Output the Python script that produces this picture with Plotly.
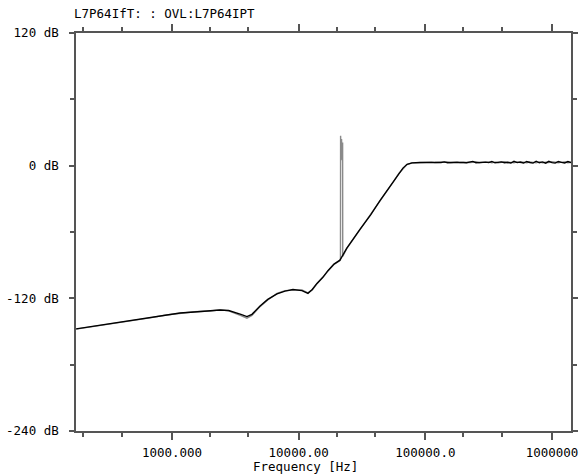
import plotly.graph_objects as go

# ---------------- data ----------------
main_freq_hz = [175, 250, 389, 500, 670, 900, 1156, 1500, 1995, 2393, 2800, 3142,
                3500, 3905, 4277, 4954, 5700, 6745, 7800, 9018, 10620, 11840,
                12800, 13940, 15500, 17020, 19000, 21180]
black_main_db = [-147.6, -145.0, -141.5, -139.8, -137.5, -135.3, -133.3, -132.3,
                 -131.2, -130.6, -131.0, -132.5, -134.5, -136.5, -134.5, -127.0,
                 -121.0, -116.0, -113.5, -112.0, -113.0, -115.5, -112.0, -106.5,
                 -101.0, -95.0, -89.0, -85.5]
gray_main_db = [-147.8, -145.2, -141.3, -139.6, -137.7, -135.1, -133.5, -132.1,
                -131.4, -130.4, -131.3, -133.2, -135.6, -138.0, -135.5, -127.5,
                -121.5, -115.6, -113.0, -112.6, -112.5, -115.0, -112.4, -106.8,
                -101.3, -95.4, -89.4, -85.8]

spike_freq_hz = [21380, 21430, 21600, 21800, 22000, 22230, 22280]
spike_db = [-84.0, 27.0, 6.0, 24.0, 5.0, 21.0, -82.0]

rise_freq_hz = [23930, 30470, 37000, 43840, 55490, 62000, 66540, 71660, 78400, 90500]
black_rise_db = [-74.8, -57.6, -44.5, -31.7, -14.9, -6.5, -2.2, 1.2, 2.5, 2.9]
gray_rise_db = [-75.1, -57.9, -44.8, -32.0, -15.2, -6.8, -2.5, 1.0, 2.4, 2.8]

plateau_freq_hz = [100000, 106000, 112000, 119000, 126000, 133000, 141000, 150000,
                   158000, 168000, 178000, 188000, 200000, 211000, 224000, 237000,
                   251000, 266000, 282000, 299000, 316000, 335000, 355000, 376000,
                   398000, 422000, 447000, 473000, 501000, 531000, 562000, 596000,
                   631000, 668000, 708000, 750000, 794000, 841000, 891000, 944000,
                   1000000, 1059000, 1122000, 1189000, 1259000, 1334000, 1413000]
black_plateau_db = [2.8, 3.0, 2.6, 3.1, 2.7, 2.9, 3.4, 2.6, 2.8, 3.0, 2.7, 3.3,
                    2.9, 2.6, 3.0, 3.9, 2.7, 2.9, 2.5, 3.2, 2.8, 3.8, 2.6, 3.0,
                    3.4, 2.7, 3.1, 2.4, 3.9, 2.8, 3.3, 2.4, 3.8, 2.9, 2.3, 4.0,
                    2.6, 3.4, 2.3, 3.9, 2.7, 2.3, 3.8, 3.0, 2.4, 3.7, 2.8]
gray_plateau_db = [2.9, 2.7, 3.2, 2.8, 3.0, 2.6, 2.9, 3.3, 2.7, 2.9, 3.4, 2.8,
                   2.6, 3.1, 2.8, 3.0, 3.5, 2.6, 3.0, 2.8, 3.4, 2.7, 3.2, 2.6,
                   2.9, 3.5, 2.7, 3.0, 2.6, 3.4, 2.9, 3.1, 2.5, 3.3, 3.0, 2.7,
                   3.4, 2.6, 3.1, 2.8, 3.5, 2.9, 2.6, 3.2, 3.4, 2.7, 3.0]

y_tick_vals = [-240, -120, 0, 120]
y_tick_text = ["-240 dB", "-120 dB", "0 dB", "120 dB"]
y_minor_vals = [-180, -60, 60]
x_tick_vals = [1000, 10000, 100000, 1000000]
x_tick_text = ["1000.000", "10000.00", "100000.0", "1000000"]
x_minor_vals = [200, 400, 2000, 4000, 20000, 40000, 200000, 400000]

title_text = "L7P64IfT: : OVL:L7P64IPT"
x_title_text = "Frequency [Hz]"

# ---------------- figure ----------------
black_freq = main_freq_hz + rise_freq_hz + plateau_freq_hz
black_db = black_main_db + black_rise_db + black_plateau_db
gray_freq = main_freq_hz + spike_freq_hz + rise_freq_hz + plateau_freq_hz
gray_db = gray_main_db + spike_db + gray_rise_db + gray_plateau_db

FONT = "DejaVu Sans Mono"
AXIS_COLOR = "#555555"
FS = 12.5

fig = go.Figure()
fig.add_trace(go.Scatter(x=gray_freq, y=gray_db, mode="lines",
                         line=dict(color="#8a8a8a", width=1.4),
                         showlegend=False, hoverinfo="skip"))
fig.add_trace(go.Scatter(x=black_freq, y=black_db, mode="lines",
                         line=dict(color="#000000", width=1.4),
                         showlegend=False, hoverinfo="skip"))

fig.update_layout(
    width=586, height=474,
    margin=dict(l=76, r=15, t=33, b=43),
    paper_bgcolor="white", plot_bgcolor="white",
    font=dict(family=FONT, size=FS, color="black"),
    showlegend=False,
)

fig.update_xaxes(
    type="log", range=[2.242, 6.15], automargin=False,
    showgrid=False, zeroline=False,
    showline=True, linecolor=AXIS_COLOR, linewidth=1.5, mirror="ticks",
    ticks="outside", ticklen=7, tickcolor=AXIS_COLOR, tickwidth=1.5,
    tickmode="array", tickvals=x_tick_vals, ticktext=x_tick_text,
    tickfont=dict(family=FONT, size=FS, color="black"),
    ticklabelstandoff=2,
    minor=dict(tickmode="array", tickvals=x_minor_vals, ticks="outside",
               ticklen=4, tickcolor=AXIS_COLOR, tickwidth=1.5, showgrid=False),
)
fig.update_yaxes(
    range=[-240, 120], automargin=False,
    showgrid=False, zeroline=False,
    showline=True, linecolor=AXIS_COLOR, linewidth=1.5, mirror="ticks",
    ticks="outside", ticklen=5, tickcolor=AXIS_COLOR, tickwidth=1.5,
    tickmode="array", tickvals=y_tick_vals, ticktext=y_tick_text,
    tickfont=dict(family=FONT, size=FS, color="black"),
    ticklabelstandoff=8,
    minor=dict(tickmode="array", tickvals=y_minor_vals, ticks="outside",
               ticklen=4, tickcolor=AXIS_COLOR, tickwidth=1.5, showgrid=False),
)

fig.add_annotation(text=title_text, xref="paper", yref="paper",
                   x=-0.008, y=1.050, xanchor="left", yanchor="middle",
                   showarrow=False, font=dict(family=FONT, size=FS, color="black"))
fig.add_annotation(text=x_title_text, xref="paper", yref="paper",
                   x=0.463, y=-0.088, xanchor="center", yanchor="middle",
                   showarrow=False, font=dict(family=FONT, size=FS, color="black"))

fig.write_html("out.html")
